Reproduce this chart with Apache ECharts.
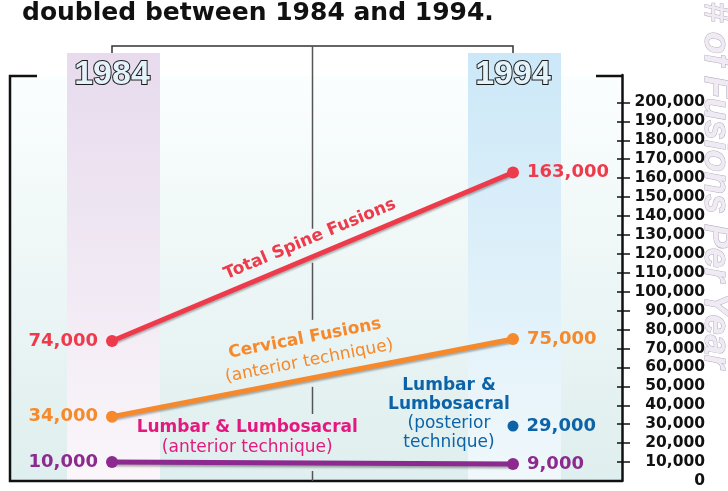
<!DOCTYPE html>
<html lang="en">
<head>
<meta charset="UTF-8">
<title>Spine fusions 1984-1994</title>
<script src="https://cdn.jsdelivr.net/npm/echarts@6/dist/echarts.min.js"></script>
<style>
    html, body { margin: 0; padding: 0; background: #ffffff; }
    #chart { width: 728px; height: 491px; }
</style>
</head>
<body>
<div id="chart"></div>
<script>
    // data
    var years = [1984, 1994];
    var totalFusions = [74000, 163000];
    var cervicalFusions = [34000, 75000];
    var lumbarAnterior = [10000, 9000];
    var lumbarPosterior = [29000]; // 1994 only
    var tickValues = [10000, 20000, 30000, 40000, 50000, 60000, 70000, 80000, 90000, 100000,
        110000, 120000, 130000, 140000, 150000, 160000, 170000, 180000, 190000, 200000];
    var labelValues = [0, 10000, 20000, 30000, 40000, 50000, 60000, 70000, 80000, 90000, 100000,
        110000, 120000, 130000, 140000, 150000, 160000, 170000, 180000, 190000, 200000];

    var RED = '#ee3b4b', ORANGE = '#f5892b', PURPLE = '#8c2a8f', MAGENTA = '#e4197f', BLUE = '#0d63a7';
    var FONT = 'DejaVu Sans';

    var chart = echarts.init(document.getElementById('chart'));

    function fmt(v) {
        return Number(v).toLocaleString('en-US');
    }

    function lineSeries(name, vals, color) {
        return {
            name: name,
            type: 'line',
            clip: false,
            animation: false,
            z: 5,
            data: years.map(function (y, i) {
                return { value: [y, vals[i]], label: { position: i === 0 ? 'left' : 'right' } };
            }),
            symbol: 'circle',
            symbolSize: 12,
            itemStyle: { color: color },
            lineStyle: {
                color: color, width: 5,
                shadowColor: 'rgba(0,0,0,0.3)', shadowBlur: 2, shadowOffsetY: 2
            },
            label: {
                show: true, distance: 8, color: color,
                fontFamily: FONT, fontWeight: 'bold', fontSize: 18,
                formatter: function (p) { return fmt(p.value[1]); }
            }
        };
    }

    var axisCommon = {
        type: 'value', position: 'right', offset: 109, min: 0, max: 214500, z: 3,
        splitLine: { show: false }
    };

    chart.setOption({
        animation: false,
        grid: { left: 112, right: 215, top: 75, bottom: 10 },
        xAxis: { type: 'value', min: 1984, max: 1994, show: false },
        yAxis: [
            Object.assign({}, axisCommon, {
                axisLine: { show: true, lineStyle: { color: '#111', width: 2.5 } },
                axisTick: { show: true, customValues: tickValues, length: 8, lineStyle: { color: '#111', width: 1.5 } },
                axisLabel: {
                    customValues: labelValues, align: 'right', margin: 83,
                    color: '#111', fontFamily: FONT, fontWeight: 'bold', fontSize: 15.5,
                    formatter: fmt
                }
            }),
            Object.assign({}, axisCommon, {
                axisLine: { show: false },
                axisTick: { show: true, inside: true, customValues: tickValues, length: 5, lineStyle: { color: '#111', width: 1.5 } },
                axisLabel: { show: false }
            })
        ],
        series: [
            lineSeries('Total Spine Fusions', totalFusions, RED),
            lineSeries('Cervical Fusions', cervicalFusions, ORANGE),
            lineSeries('Lumbar & Lumbosacral (anterior)', lumbarAnterior, PURPLE),
            {
                name: 'Lumbar & Lumbosacral (posterior)',
                type: 'scatter',
                z: 5,
                animation: false,
                symbolSize: 11,
                data: [[years[1], lumbarPosterior[0]]],
                itemStyle: { color: BLUE, opacity: 1 },
                label: {
                    show: true, position: 'right', distance: 8, color: BLUE,
                    fontFamily: FONT, fontWeight: 'bold', fontSize: 18,
                    formatter: function (p) { return fmt(p.value[1]); }
                }
            }
        ]
    });

    // decorations built from the grid's own scale
    function px(x, y) {
        return chart.convertToPixel({ xAxisIndex: 0, yAxisIndex: 0 }, [x, y]);
    }
    function vgrad(c0, c1) {
        return { type: 'linear', x: 0, y: 0, x2: 0, y2: 1,
            colorStops: [{ offset: 0, color: c0 }, { offset: 1, color: c1 }] };
    }
    // rich styles for two-weight captions
    function richStyles(color, lh1, lh2) {
        return {
            b: { fontFamily: FONT, fontSize: 17, fontWeight: 'bold', fill: color, lineHeight: lh1 },
            r: { fontFamily: FONT, fontSize: 17, fontWeight: 'normal', fill: color, lineHeight: lh2 }
        };
    }
    var boxL = 10, boxR = 622, boxT = 76, boxB = 481;
    var x84 = px(years[0], 0)[0], x94 = px(years[1], 0)[0];
    var xMid = (x84 + x94) / 2;
    var yearMid = (years[0] + years[1]) / 2;
    function midY(vals) { return px(yearMid, (vals[0] + vals[1]) / 2)[1]; }

    function lineAngle(vals) {
        var a = px(years[0], vals[0]), b = px(years[1], vals[1]);
        return Math.atan2(a[1] - b[1], b[0] - a[0]);
    }
    function along(vals, t, off) {
        var a = px(years[0], vals[0]), b = px(years[1], vals[1]);
        var ang = lineAngle(vals);
        return [a[0] + (b[0] - a[0]) * t - Math.sin(ang) * off, a[1] + (b[1] - a[1]) * t - Math.cos(ang) * off];
    }

    var g = [];
    // plot background
    g.push({
        type: 'rect', z: 1, silent: true,
        shape: { x: boxL, y: boxT, width: boxR - boxL, height: boxB - boxT },
        style: { fill: vgrad('#fbfefe', '#dfeeee') }
    });
    // year bands
    [[x84, '#e7dbed', '#faf6fa'], [x94, '#cce8f8', '#f0f8fb']].forEach(function (b) {
        g.push({
            type: 'rect', z: 1, silent: true,
            shape: { x: b[0] - 45, y: 53, width: 93, height: boxB - 53 },
            style: { fill: vgrad(b[1], b[2]) }
        });
    });
    // frame
    g.push({ type: 'polyline', z: 4, silent: true,
        shape: { points: [[37, boxT], [boxL, boxT], [boxL, boxB], [boxR, boxB]] },
        style: { stroke: '#111', lineWidth: 2.5, fill: 'none' } });
    g.push({ type: 'line', z: 4, silent: true,
        shape: { x1: 596, y1: boxT, x2: boxR, y2: boxT },
        style: { stroke: '#111', lineWidth: 2.5 } });
    // bracket
    g.push({ type: 'polyline', z: 4, silent: true,
        shape: { points: [[x84, 53], [x84, 46], [x94, 46], [x94, 53]] },
        style: { stroke: '#333', lineWidth: 1.5, fill: 'none' } });
    // centre divider, broken where the captions cross
    var gaps = [[midY(totalFusions) - 28, midY(totalFusions) + 6],
        [midY(cervicalFusions) - 58, midY(cervicalFusions) + 9],
        [midY(lumbarAnterior) - 49, midY(lumbarAnterior) + 8]];
    var yStart = 46;
    gaps.forEach(function (gp) {
        g.push({ type: 'line', z: 4, silent: true,
            shape: { x1: xMid, y1: yStart, x2: xMid, y2: gp[0] },
            style: { stroke: '#555', lineWidth: 1.5 } });
        yStart = gp[1];
    });
    g.push({ type: 'line', z: 4, silent: true,
        shape: { x1: xMid, y1: yStart, x2: xMid, y2: boxB },
        style: { stroke: '#555', lineWidth: 1.5 } });

    // year labels
    [[x84, '1984'], [x94, '1994']].forEach(function (y) {
        g.push({ type: 'text', z: 6, silent: true, x: y[0], y: 75,
            style: { text: y[1], textAlign: 'center', textVerticalAlign: 'middle',
                fontFamily: 'Liberation Sans', fontWeight: 'bold', fontSize: 34,
                fill: '#e4f2fa', stroke: '#1b1b1b', lineWidth: 2,
                shadowColor: 'rgba(0,0,0,0.35)', shadowOffsetX: 1, shadowOffsetY: 1.5, shadowBlur: 1 } });
    });

    // title line
    g.push({ type: 'text', z: 6, silent: true, x: 22, y: 13,
        style: { text: 'doubled between 1984 and 1994.', textAlign: 'left', textVerticalAlign: 'middle',
            fontFamily: FONT, fontWeight: 'bold', fontSize: 25, fill: '#111' } });

    // vertical axis title
    g.push({ type: 'text', z: 2, silent: true, x: 715, y: 2, rotation: -Math.PI / 2,
        style: { text: '# of Fusions Per Year', textAlign: 'left', textVerticalAlign: 'middle',
            fontFamily: 'Liberation Sans', fontStyle: 'italic', fontWeight: 'bold', fontSize: 36,
            fill: '#efeaf3', stroke: '#b3abbb', lineWidth: 1 } });

    // captions
    var pT = along(totalFusions, 0.51, 17);
    g.push({ type: 'text', z: 6, silent: true, x: pT[0], y: pT[1], rotation: lineAngle(totalFusions),
        style: { text: 'Total Spine Fusions', textAlign: 'center', textVerticalAlign: 'middle',
            fontFamily: FONT, fontWeight: 'bold', fontSize: 17, fill: RED } });

    var pC = along(cervicalFusions, 0.5, 29);
    g.push({ type: 'text', z: 6, silent: true, x: pC[0], y: pC[1], rotation: lineAngle(cervicalFusions),
        style: { text: '{b|Cervical Fusions}\n{r|(anterior technique)}', textAlign: 'center', textVerticalAlign: 'middle',
            fill: ORANGE, fontFamily: FONT, fontSize: 17, rich: richStyles(ORANGE, 24, 22) } });

    var pL = along(lumbarAnterior, 0.337, 25);
    g.push({ type: 'text', z: 6, silent: true, x: pL[0], y: pL[1],
        style: { text: '{b|Lumbar & Lumbosacral}\n{r|(anterior technique)}', textAlign: 'center', textVerticalAlign: 'middle',
            fill: MAGENTA, fontFamily: FONT, fontSize: 17, rich: richStyles(MAGENTA, 20, 20) } });

    var pP = px(years[1], lumbarPosterior[0]);
    g.push({ type: 'text', z: 6, silent: true, x: pP[0] - 64, y: pP[1] - 12,
        style: { text: '{b|Lumbar &}\n{b|Lumbosacral}\n{r|(posterior}\n{r|technique)}', textAlign: 'center', textVerticalAlign: 'middle',
            fill: BLUE, fontFamily: FONT, fontSize: 17, rich: richStyles(BLUE, 19, 19) } });

    chart.setOption({ graphic: { elements: g } });
</script>
</body>
</html>
